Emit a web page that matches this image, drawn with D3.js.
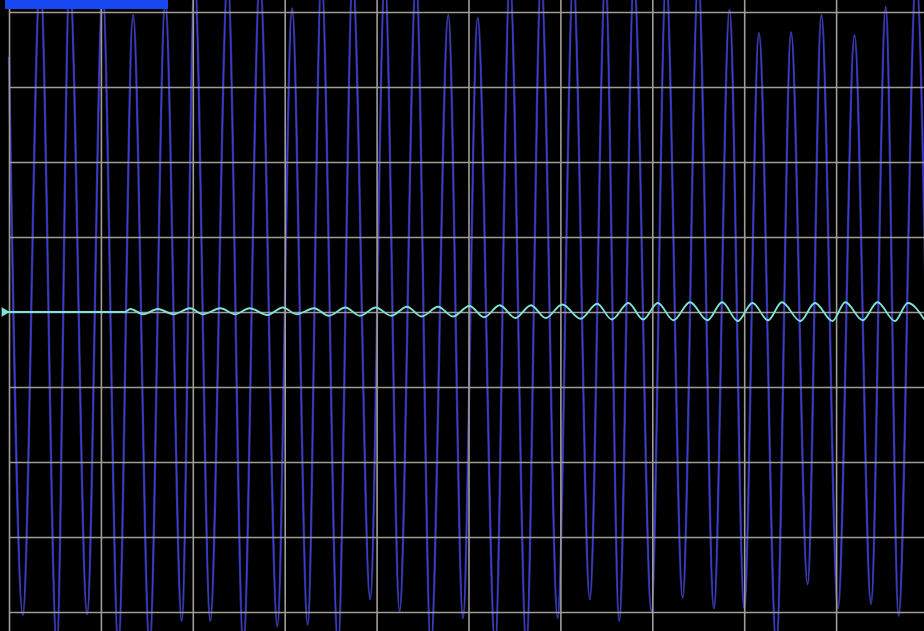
<!DOCTYPE html>
<html>
<head>
<meta charset="utf-8">
<script src="https://cdn.jsdelivr.net/npm/d3@7"></script>
<style>
  html, body { margin: 0; padding: 0; background: #000; overflow: hidden; }
  svg { display: block; }
</style>
</head>
<body>
<div id="scope"></div>
<script>
// grid divisions (10 across, 8 tall)
const xTicks = [0, 1, 2, 3, 4, 5, 6, 7, 8, 9, 10];
const yTicks = [-4, -3, -2, -1, 0, 1, 2, 3, 4];

// channel 1 (blue): peaks and troughs, time in divisions, value in divisions
const blueTimes = [
  0.00, 0.15, 0.34, 0.52, 0.66, 0.85, 1.02, 1.19, 1.35, 1.53,
  1.70, 1.88, 2.02, 2.19, 2.38, 2.55, 2.73, 2.92, 3.08, 3.25,
  3.40, 3.58, 3.74, 3.93, 4.09, 4.25, 4.43, 4.59, 4.78, 4.94,
  5.10, 5.29, 5.45, 5.63, 5.79, 5.97, 6.14, 6.32, 6.49, 6.64,
  6.80, 6.99, 7.15, 7.33, 7.50, 7.67, 7.84, 8.00, 8.16, 8.35,
  8.51, 8.69, 8.84, 9.02, 9.20, 9.38, 9.54, 9.68, 9.87, 10.03
];
const blueValues = [
  3.40, -4.04, 4.45, -4.45, 4.45, -4.03, 4.25, -4.45, 3.96, -4.45,
  4.13, -4.12, 4.45, -4.12, 4.45, -4.45, 4.45, -4.19, 4.05, -4.17,
  4.45, -4.45, 4.45, -3.83, 4.45, -3.99, 4.45, -4.45, 3.96, -4.08,
  3.92, -4.45, 4.45, -4.45, 4.45, -4.08, 4.45, -3.83, 4.45, -4.12,
  4.45, -3.99, 4.45, -3.81, 4.45, -3.95, 4.03, -3.95, 3.72, -4.45,
  3.73, -3.63, 3.96, -3.95, 3.69, -3.89, 4.07, -4.05, 4.45, -4.11
];

// channel 2 (cyan): flat, then a small ripple that slowly grows
const cyanTimes = [
  -0.05, 1.26, 1.32, 1.46, 1.62, 1.79, 1.97, 2.11, 2.30, 2.46,
  2.62, 2.81, 2.98, 3.13, 3.32, 3.48, 3.66, 3.82, 3.99, 4.16,
  4.33, 4.49, 4.67, 4.83, 5.01, 5.17, 5.34, 5.51, 5.68, 5.84,
  6.02, 6.22, 6.40, 6.56, 6.74, 6.90, 7.06, 7.23, 7.41, 7.60,
  7.76, 7.93, 8.09, 8.26, 8.41, 8.61, 8.77, 8.96, 9.10, 9.29,
  9.45, 9.64, 9.78, 9.96
];
const cyanValues = [
  0, 0, 0.04, -0.03, 0.04, -0.03, 0.05, -0.03, 0.05, -0.03,
  0.05, -0.04, 0.06, -0.03, 0.05, -0.05, 0.06, -0.05, 0.06, -0.05,
  0.07, -0.06, 0.07, -0.06, 0.08, -0.07, 0.09, -0.08, 0.09, -0.08,
  0.10, -0.09, 0.11, -0.10, 0.12, -0.10, 0.12, -0.11, 0.13, -0.11,
  0.13, -0.12, 0.12, -0.11, 0.13, -0.12, 0.12, -0.12, 0.13, -0.11,
  0.13, -0.12, 0.12, -0.10
];

const width = 924;
const height = 631;

const svg = d3.select('#scope')
  .append('svg')
  .attr('width', width)
  .attr('height', height);

svg.append('rect')
  .attr('width', width)
  .attr('height', height)
  .attr('fill', '#000');

const x = d3.scaleLinear().domain([0, 10]).range([9, 928]);
const y = d3.scaleLinear().domain([-4, 4]).range([612, 12]);

const toPoints = (times, values) => times.map((t, i) => [t, values[i]]);

const line = d3.line()
  .x((d) => x(d[0]))
  .y((d) => y(d[1]))
  .curve(d3.curveMonotoneX);

// blue trace
svg.append('path')
  .datum(toPoints(blueTimes, blueValues))
  .attr('fill', 'none')
  .attr('stroke', '#6a6ad8')
  .attr('stroke-width', 2.4)
  .attr('stroke-opacity', 0.45)
  .attr('d', line);

svg.append('path')
  .datum(toPoints(blueTimes, blueValues))
  .attr('fill', 'none')
  .attr('stroke', '#3a3af0')
  .attr('stroke-width', 1.2)
  .attr('d', line);

// grid
const xGrid = svg.append('g')
  .attr('transform', `translate(0,${height})`)
  .call(d3.axisBottom(x).tickValues(xTicks).tickSize(-height).tickFormat(''));

const yGrid = svg.append('g')
  .attr('transform', `translate(${x(0)},0)`)
  .call(d3.axisLeft(y).tickValues(yTicks).tickSize(-(width - x(0))).tickFormat(''));

[xGrid, yGrid].forEach((g) => {
  g.select('.domain').remove();
  g.selectAll('.tick line')
    .attr('stroke', '#a19d96')
    .attr('stroke-width', 1.6);
});

// cyan trace
svg.append('path')
  .datum(toPoints(cyanTimes, cyanValues))
  .attr('fill', 'none')
  .attr('stroke', '#7fe3dc')
  .attr('stroke-width', 1.8)
  .attr('d', line);

// channel marker at the left edge
svg.append('path')
  .attr('d', d3.symbol(d3.symbolTriangle, 40)())
  .attr('transform', `translate(${x(cyanTimes[0])},${y(0)}) rotate(90)`)
  .attr('fill', '#7fe3dc');

// scrap of the window bar at the top-left
svg.append('rect')
  .attr('x', 5)
  .attr('y', 0)
  .attr('width', 163)
  .attr('height', 9)
  .attr('fill', '#1848f2');
</script>
</body>
</html>
